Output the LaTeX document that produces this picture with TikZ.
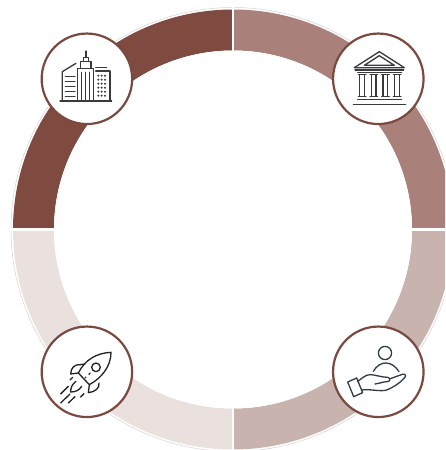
\documentclass[tikz,border=0pt]{standalone}
\definecolor{ringA}{HTML}{7F4A40}
\definecolor{ringB}{HTML}{A9807A}
\definecolor{ringC}{HTML}{C9B3AF}
\definecolor{ringD}{HTML}{EAE1DF}
\definecolor{rimline}{HTML}{D9D2D0}
\definecolor{badgeline}{HTML}{7A4A40}
\definecolor{iconink}{HTML}{3A3A3C}
\definecolor{handink}{HTML}{2E3B47}
\definecolor{rocketink}{HTML}{222222}
\tikzset{
  badge/.style={circle,draw=badgeline,fill=white,line width=2.2pt,minimum size=90.5pt,inner sep=0pt,outer sep=0pt},
  icon/.style={line width=1.3pt,line cap=round,line join=round},
  zoomed/.style={x=.33333pt,y=-.33333pt},
}
\newcommand{\ringseg}[3]{%
  \fill[#3] ($(c)+(#1:220pt)$) arc[start angle=#1,end angle=#2,radius=220pt]
    -- ($(c)+(#2:179pt)$) arc[start angle=#2,end angle=#1,radius=179pt] -- cycle;}
\usetikzlibrary{calc}
\begin{document}
\begin{tikzpicture}[x=1pt,y=1pt]
\useasboundingbox (0,0) rectangle (445,450);
\clip (0,0) rectangle (445,450);
\fill[white] (0,0) rectangle (445,450);
\coordinate (c) at (233,220.5);
% faint rim
\draw[rimline,line width=.5pt] (c) circle[radius=222pt];
% ring
\ringseg{90}{180}{ringA}
\ringseg{0}{90}{ringB}
\ringseg{-90}{0}{ringC}
\ringseg{180}{270}{ringD}
\coordinate (gapN) at (233,452);
\coordinate (gapS) at (233,0);
\coordinate (gapW) at (0,220.5);
\coordinate (gapE) at (445,220.5);
\draw[white,line width=2.6pt] (gapN) -- (gapS);
\draw[white,line width=2.6pt] (gapW) -- (gapE);
\fill[white] (c) circle[radius=179pt];
% badges
\node[badge] (tl) at (86.9,371.2) {};
\node[badge] (tr) at (378.3,371.2) {};
\node[badge] (bl) at (86.9,78.2) {};
\node[badge] (br) at (378.3,78.2) {};
% office towers
\begin{scope}[shift={(30,425)},zoomed,icon,draw=iconink]
  \draw (90,228) -- (245,228);
  \draw (97,228) -- (97,140) -- (138,115);
  \foreach \yy in {155,170,185,200,215} \draw (106,\yy) -- (135,\yy);
  \draw (143,228) -- (143,130) -- (190,130) -- (190,228);
  \foreach \xx in {155,167,178} \draw (\xx,142) -- (\xx,228);
  \draw (151,130) -- (151,110) -- (183,110) -- (183,130);
  \draw (160,110) -- (160,98) -- (175,98) -- (175,110);
  \draw (168,98) -- (168,78);
  \draw (197,128) -- (230,128);
  \draw (197,138) -- (240,138) -- (240,228);
  \foreach \xx in {205,215,225} \foreach \yy in {152,164,176,188,200,212}
    \fill[iconink] (\xx,\yy) circle[radius=1.1pt];
\end{scope}
% bank
\begin{scope}[shift={(325,425)},zoomed,icon,draw=iconink]
  \draw (88,128) -- (163,80) -- (238,128) -- cycle;
  \draw (118,121) -- (163,92) -- (208,121) -- cycle;
  \draw (90,135) -- (236,135);
  \draw (98,142) -- (230,142);
  \foreach \xx in {100,135,170,205} {
    \draw (\xx,149) -- ({\xx+23},149);
    \draw[line width=1.6pt] ({\xx+4},149) -- ({\xx+4},214);
    \draw[line width=1.6pt] ({\xx+18},149) -- ({\xx+18},214);
    \draw (\xx,214) -- ({\xx+23},214);
  }
  \draw (98,224) -- (230,224);
  \draw (85,238) -- (242,238);
\end{scope}
% rocket
\begin{scope}[shift={(30,132)},zoomed,icon,draw=rocketink]
  \draw (145,165) .. controls (165,125) and (200,105) .. (243,103)
     .. controls (243,145) and (215,180) .. (178,200) -- cycle;
  \draw (198,148) circle[radius=4.3pt];
  \draw (150,140) .. controls (135,138) and (122,150) .. (122,168) -- (145,165);
  \draw (150,140) -- (165,138);
  \draw (207,195) .. controls (210,210) and (195,222) .. (175,224) -- (178,200);
  \draw (138,190) .. controls (125,200) and (122,210) .. (122,222)
     .. controls (135,222) and (147,218) .. (155,205);
  \draw (180,165) -- (177,169);
  \draw (165,180) -- (168,177);
  \draw (92,228) -- (115,205);
  \draw (120,186) -- (128,178);
  \draw (92,255) -- (120,228);
  \draw (115,255) -- (135,236);
  \draw (152,237) -- (162,227);
\end{scope}
% hand and person
\begin{scope}[shift={(325,132)},zoomed,icon,draw=handink]
  \draw (180,105) circle[radius=6.6pt];
  \draw (145,160) .. controls (155,142) and (170,135) .. (182,135)
     .. controls (198,135) and (212,145) .. (222,161);
  \draw (68,192) -- (95,180) -- (113,224) -- (86,236) -- cycle;
  \draw (98,190) .. controls (110,183) and (120,170) .. (135,170)
     .. controls (150,170) and (170,178) .. (188,178)
     .. controls (197,180) and (197,191) .. (186,191)
     .. controls (175,191) and (165,196) .. (150,198);
  \draw (196,182) -- (232,169) .. controls (240,167) and (246,172) .. (238,180)
     .. controls (225,195) and (205,208) .. (185,216)
     .. controls (165,222) and (135,212) .. (110,216);
\end{scope}
\end{tikzpicture}
\end{document}
